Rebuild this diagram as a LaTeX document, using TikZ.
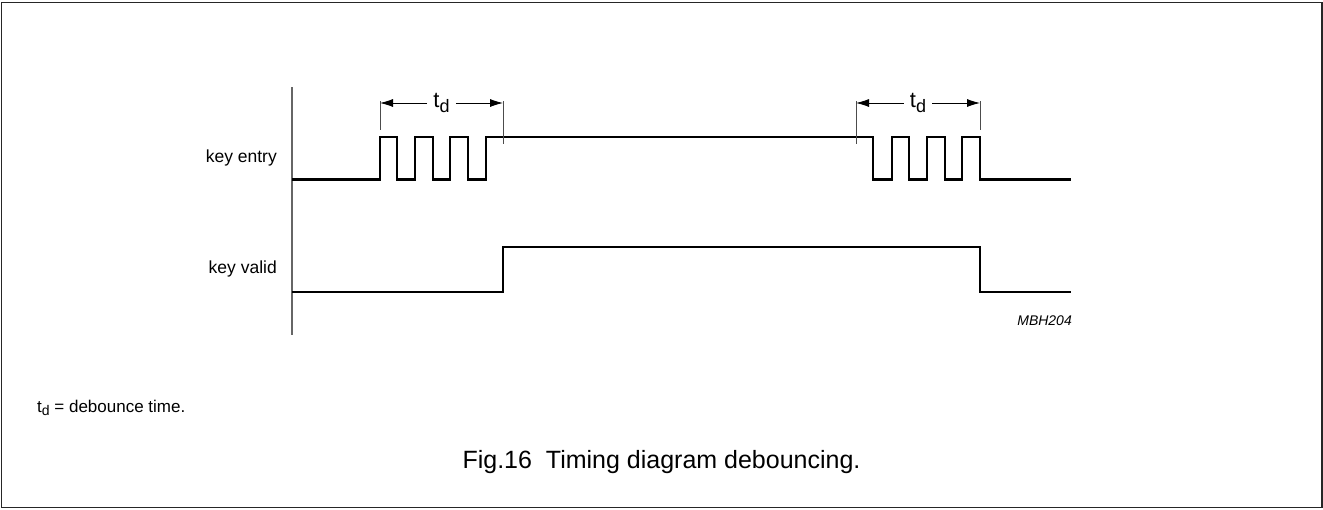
\documentclass[tikz,border=0pt]{standalone}
\usepackage{fontspec}
\setmainfont{Liberation Sans}
\usetikzlibrary{arrows.meta}

% t com índice d
\newcommand{\tsub}[2]{{\fontsize{#1}{#1}\selectfont t\raisebox{-0.2em}{\fontsize{#2}{#2}\selectfont d}}}

\begin{document}
\begin{tikzpicture}[x=1pt,y=-1pt,
    onda/.style={line width=2.6pt},
    guia/.style={line width=0.8pt, black!70},
    seta/.style={line width=0.8pt, -{Latex[length=13pt,width=8pt]}},
    rotulo/.style={anchor=east, inner sep=0pt, font=\fontsize{17.5}{20}\selectfont}]

    % Moldura
    \useasboundingbox (0,0) rectangle (1323,509);
    \draw[line width=1.5pt, black!85] (1.5,2.5) rectangle (1322,507.5);

    % Eixo vertical
    \draw[line width=1.2pt, black!60] (292,87) -- (292,335);

    % Sinal key entry
    \draw[onda] (292,179.5) -- (380,179.5) -- (380,137) -- (397,137) -- (397,179.5)
        -- (415,179.5) -- (415,137) -- (433,137) -- (433,179.5)
        -- (450,179.5) -- (450,137) -- (468,137) -- (468,179.5)
        -- (486,179.5) -- (486,137) -- (873,137) -- (873,179.5)
        -- (892,179.5) -- (892,137) -- (909,137) -- (909,179.5)
        -- (927,179.5) -- (927,137) -- (945,137) -- (945,179.5)
        -- (962,179.5) -- (962,137) -- (980,137) -- (980,179.5) -- (1071,179.5);

    % Sinal key valid
    \draw[onda] (292,292) -- (503,292) -- (503,247) -- (980,247) -- (980,292) -- (1071,292);

    % Marcas de t_d
    \coordinate (A1) at (380,103);
    \coordinate (A2) at (503,103);
    \coordinate (B1) at (856,103);
    \coordinate (B2) at (980,103);
    \draw[guia] (380,101) -- (380,130);
    \draw[guia] (503,101) -- (503,144);
    \draw[guia] (856,101) -- (856,144);
    \draw[guia] (980,101) -- (980,130);

    % Cotas t_d
    \node[inner xsep=6pt, inner ysep=0pt] (tdA) at (441.5,103) {\tsub{22}{18}};
    \node[inner xsep=6pt, inner ysep=0pt] (tdB) at (918,103) {\tsub{22}{18}};
    \draw[seta] (tdA.west) -- (A1);
    \draw[seta] (tdA.east) -- (A2);
    \draw[seta] (tdB.west) -- (B1);
    \draw[seta] (tdB.east) -- (B2);

    % Nomes dos sinais
    \node[rotulo] (entry) at (277,158) {key entry};
    \node[rotulo] (valid) at (277,269) {key valid};
    \node[anchor=east, inner sep=0pt, font=\fontsize{14}{16}\selectfont\itshape] (codigo) at (1072,321) {MBH204};

    % Nota e legenda
    \node[anchor=west, inner sep=0pt, font=\fontsize{17}{20}\selectfont] (nota) at (37,408) {\tsub{17}{14} = debounce time.};
    \node[font=\fontsize{25}{28}\selectfont] (legenda) at (661.5,462) {Fig.16\ \ Timing diagram debouncing.};

\end{tikzpicture}
\end{document}
